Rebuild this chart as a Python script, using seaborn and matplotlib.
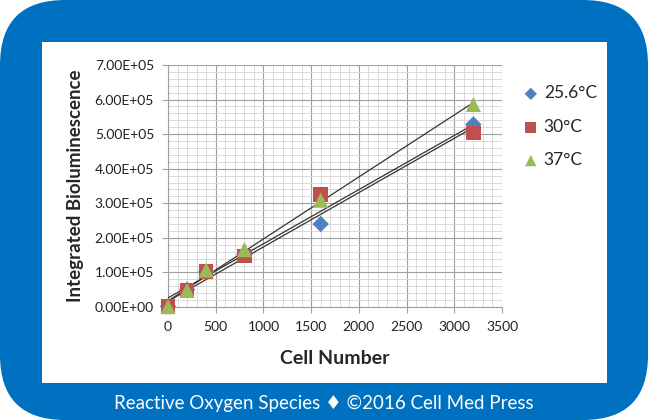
import numpy as np
import pandas as pd
import matplotlib
matplotlib.use("Agg")
import matplotlib.pyplot as plt
from matplotlib.patches import FancyBboxPatch, Rectangle
from matplotlib.ticker import MultipleLocator, FuncFormatter
import seaborn as sns

# data
cells = [0, 200, 400, 800, 1600, 3200]
temp_labels = ["25.6°C", "30°C", "37°C"]
lum_256 = [2000, 50000, 102000, 152000, 240000, 528000]
lum_30 = [1000, 49000, 103000, 147000, 326000, 503000]
lum_37 = [1000, 48000, 107000, 166000, 309000, 586000]

x_ticks = [0, 500, 1000, 1500, 2000, 2500, 3000, 3500]
y_ticks = [0, 1e5, 2e5, 3e5, 4e5, 5e5, 6e5, 7e5]

colors = ["#4F81BD", "#C0504D", "#9BBB59"]
markers = ["D", "s", "^"]
sizes = [70, 110, 120]

df = pd.concat([
    pd.DataFrame({"cells": cells, "lum": vals, "temp": lab})
    for vals, lab in zip([lum_256, lum_30, lum_37], temp_labels)
])

sns.set_style("white")
plt.rcParams["font.family"] = ["Lato", "DejaVu Sans"]

fig = plt.figure(figsize=(6.48, 4.2), dpi=100)
fig.patch.set_facecolor("white")

# blue rounded frame and white panel
frame = FancyBboxPatch((0.0, 0.0), 6.48, 4.2,
                       boxstyle="round,pad=0,rounding_size=0.65",
                       transform=fig.dpi_scale_trans,
                       facecolor="#0070C0", edgecolor="none", zorder=0)
fig.patches.append(frame)
panel = Rectangle((42 / 648, 1 - 383 / 420), (607 - 42) / 648, (383 - 42) / 420,
                  transform=fig.transFigure, facecolor="white",
                  edgecolor="none", zorder=1)
fig.patches.append(panel)

ax = fig.add_axes([168 / 648, 1 - 307 / 420, (502 - 168) / 648, (307 - 65) / 420])
ax.set_zorder(5)
ax.set_facecolor("white")

# trend lines
for lab in temp_labels:
    sub = df[df["temp"] == lab]
    sns.regplot(data=sub, x="cells", y="lum", ax=ax, scatter=False, ci=None,
                truncate=True, line_kws={"color": "#333333", "lw": 0.9, "zorder": 3})

for lab, c, m, s in zip(temp_labels, colors, markers, sizes):
    sub = df[df["temp"] == lab]
    sns.scatterplot(data=sub, x="cells", y="lum", ax=ax, color=c, marker=m,
                    s=s, edgecolor="none", label=lab, zorder=4, clip_on=False)

ax.set_xlim(0, 3500)
ax.set_ylim(0, 7e5)
ax.set_xticks(x_ticks)
ax.set_yticks(y_ticks)
ax.xaxis.set_minor_locator(MultipleLocator(100))
ax.yaxis.set_minor_locator(MultipleLocator(2e4))
ax.yaxis.set_major_formatter(FuncFormatter(lambda v, p: f"{v:.2E}"))
ax.grid(which="major", color="#A0A0A0", lw=0.8)
ax.grid(which="minor", color="#D4D4D4", lw=0.6)
ax.set_axisbelow(True)
for side in ["top", "right"]:
    ax.spines[side].set_visible(False)
for side in ["left", "bottom"]:
    ax.spines[side].set_color("#A0A0A0")
    ax.spines[side].set_linewidth(0.8)
ax.tick_params(which="major", length=4, color="#A0A0A0", labelsize=10,
               labelcolor="#222222", pad=6)
ax.tick_params(which="minor", length=0)
ax.tick_params(axis="y", direction="out", left=True)
ax.tick_params(axis="x", direction="out", bottom=True)

ax.set_xlabel("Cell Number", fontsize=14, fontweight="bold", labelpad=12)
ax.set_ylabel("Integrated Bioluminescence", fontsize=13.5, fontweight="bold",
              labelpad=8)

ax.legend(loc="upper left", bbox_to_anchor=(1.055, 0.93), frameon=False,
          fontsize=12.5, handlelength=0.8, handletextpad=0.35,
          labelspacing=1.0, markerscale=0.75, borderaxespad=0,
          borderpad=0.2)

fig.text(0.5, 1 - 403 / 420, "Reactive Oxygen Species \u2666 \u00a92016 Cell Med Press",
         ha="center", va="center", color="white", fontsize=13.5,
         family=["Lato", "DejaVu Sans"])

fig.savefig("out.png", dpi=100, facecolor=fig.get_facecolor())
